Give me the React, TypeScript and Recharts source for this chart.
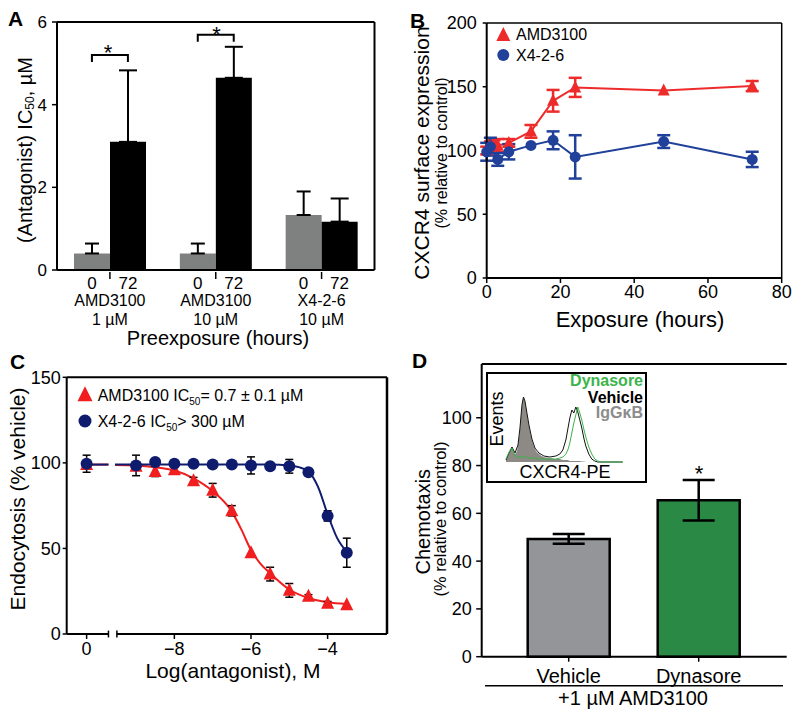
import React from 'react';
import {
  ComposedChart, Bar, Line, Scatter, Area, XAxis, YAxis, ErrorBar, ReferenceLine, Cell,
} from 'recharts';

const FONT = '"Liberation Sans", Arial, Helvetica, sans-serif';

// ---- Panel A: IC50 after preexposure ----
const aPos = [1, 2, 3];
const aGroups = [['AMD3100', '1 µM'], ['AMD3100', '10 µM'], ['X4-2-6', '10 µM']];
const aTimes = ['0', '72'];
const aPre = [0.4, 0.4, 1.33];
const aPreErr = [0.24, 0.24, 0.57];
const aPost = [3.1, 4.65, 1.17];
const aPostErr = [1.73, 0.75, 0.56];
// significance brackets: from, to, level
const aSigFrom = [0.83, 1.83];
const aSigTo = [1.17, 2.17];
const aSigLevel = [5.2, 5.69];

// ---- Panel B: surface expression over time ----
const bTimesAmd = [0, 1, 2, 3, 6, 12, 18, 24, 48, 72];
const bAmd = [100, 103, 104, 104, 106, 115, 139, 149.5, 147, 150.5];
const bAmdErr = [3, 4, 4, 5, 3, 5, 8.5, 7.5, 0, 4];
const bTimesX4 = [0, 1, 3, 6, 12, 18, 24, 48, 72];
const bX4 = [99, 103, 93, 99, 104, 108, 95, 107, 93];
const bX4Err = [7, 7, 5, 6, 0, 7, 17, 5, 6];

// ---- Panel C: endocytosis dose response ----
const cCtrlPos = -10.29; // where the "0" (no antagonist) point sits on the broken axis
const cDose = [cCtrlPos, -9, -8.5, -8, -7.5, -7, -6.5, -6, -5.5, -5, -4.5, -4, -3.5];
const cAmd = [99, 98, 95, 96, 89.5, 84, 72, 47.5, 35, 25.5, 22, 18, 17];
const cAmdErr = [0, 1, 3, 2, 2, 4, 3, 0, 4, 4, 1, 1, 0];
const cX4 = [99.5, 98.5, 100.5, 99.5, 99.5, 99, 99, 98.5, 98, 98, 94.5, 69, 47.5];
const cX4Err = [5, 6, 0, 0, 0, 0, 0, 5, 0, 4, 0, 3, 8.5];
const cAmdFitX = [-9.55, -9, -8.5, -8, -7.5, -7, -6.5, -6.25, -6, -5.75, -5.5, -5, -4.5, -4, -3.5];
const cAmdFit = [98.8, 98.5, 97.5, 95.5, 91, 83.5, 71.5, 61, 49, 41, 35.5, 26, 21, 18.5, 17.5];
const cX4FitX = [-9.55, -9, -8, -7, -6, -5.5, -5, -4.75, -4.5, -4.25, -4, -3.75, -3.5];
const cX4Fit = [99, 99, 99, 99, 99, 99, 98.5, 97.5, 95, 86, 70, 56, 48];
const cCtrlFitX = [-10.4, -9.72];
const cCtrlFit = [99, 99];

// ---- Panel D: chemotaxis ----
const dGroups = ['Vehicle', 'Dynasore'];
const dChemo = [49.3, 65.5];
const dChemoErr = [2, 8.5];
const dColors = ['#939598', '#2a8a45'];

// inset histogram (CXCR4-PE)
const hX = [0, 3, 6, 9, 12, 14, 16, 17.5, 19, 21, 23, 26, 29, 33, 38, 44, 50, 54, 57, 60, 62, 64, 66, 68, 70, 72, 74, 76, 78, 80, 83, 86, 89, 92, 96, 117];
const hIso = [2, 8, 15, 8, 16, 32, 55, 64, 60, 48, 36, 22, 13, 8, 5, 4, 3, 3, 2, 2, 2, 1, 1, 1, 1, 1, 1, 0.5, 0.5, 0, 0, 0, 0, 0, 0, 0];
const hVeh = [2, 9, 15, 9, 17, 34, 57, 65, 61, 49, 37, 23, 14, 9, 6, 5, 6, 8, 12, 22, 33, 44, 52, 49, 55, 50, 42, 34, 24, 16, 8, 3, 1, 0, 0, 0];
const hDyn = [3, 10, 14, 6, 5, 5, 5, 5, 5, 5, 4, 4, 4, 3, 3, 3, 3, 4, 5, 8, 12, 19, 29, 39, 47, 55, 49, 42, 33, 25, 15, 8, 3, 1, 0, 0];

const RED_B = '#ee2b2b';
const BLUE_B = '#21409a';
const RED_C = '#f01e1e';
const NAVY_C = '#0f1c6e';

const axisLine = { stroke: '#000', strokeWidth: 2 };
const tickLine = { stroke: '#000', strokeWidth: 1.5 };
const tickStyle = (size: number) => ({ fill: '#000', fontSize: size, fontFamily: FONT });

const Tri = ({ cx, cy, size, fill }: any) => (
  <polygon
    points={`${cx},${cy - size * 0.58} ${cx - size / 2},${cy + size * 0.42} ${cx + size / 2},${cy + size * 0.42}`}
    fill={fill}
  />
);

const AGroupTick = (props: any) => {
  const { x, y, payload } = props;
  const i = aPos.indexOf(Number(payload.value));
  if (i < 0) return null;
  return (
    <g fontFamily={FONT} fill="#000" textAnchor="middle">
      <line x1={x} y1={y} x2={x} y2={y + 7} stroke="#000" strokeWidth={1.5} />
      <text x={x - 18} y={y + 11} dominantBaseline="central" fontSize={17}>{aTimes[0]}</text>
      <text x={x + 18} y={y + 11} dominantBaseline="central" fontSize={17}>{aTimes[1]}</text>
      <text x={x} y={y + 28.5} dominantBaseline="central" fontSize={16}>{aGroups[i][0]}</text>
      <text x={x} y={y + 47} dominantBaseline="central" fontSize={16}>{aGroups[i][1]}</text>
    </g>
  );
};

function PanelA() {
  const data = aPos.map((pos, i) => ({
    pos, pre: aPre[i], preErr: [0, aPreErr[i]], post: aPost[i], postErr: [0, aPostErr[i]],
  }));
  const brackets = aSigFrom.map((f, i) => [
    { pos: f, y: aSigLevel[i] - 0.17 },
    { pos: f, y: aSigLevel[i] },
    { pos: aSigTo[i], y: aSigLevel[i] },
    { pos: aSigTo[i], y: aSigLevel[i] - 0.17 },
  ]);
  return (
    <div style={{ position: 'absolute', left: 0, top: 0 }}>
      <ComposedChart width={400} height={340} data={data} barGap={0} margin={{ top: 22, right: 25.5, bottom: 0, left: 0 }}>
        <XAxis type="category" dataKey="pos" interval={0} height={70}
          tickSize={0} tickLine={false} axisLine={axisLine} tick={<AGroupTick />} />
        <XAxis xAxisId="num" type="number" dataKey="pos" domain={[0.5, 3.5]} hide />
        <YAxis type="number" domain={[0, 6]} ticks={[0, 2, 4, 6]} width={57} tickSize={5} tickMargin={5}
          axisLine={axisLine} tickLine={tickLine} tick={tickStyle(17)} />
        <ReferenceLine y={6} stroke="#000" strokeWidth={2} ifOverflow="visible" />
        <ReferenceLine xAxisId="num" x={3.5} stroke="#000" strokeWidth={2} ifOverflow="visible" />
        <Bar dataKey="pre" fill="#7f8181" barSize={36} isAnimationActive={false}>
          <ErrorBar dataKey="preErr" direction="y" width={7} stroke="#000" strokeWidth={2} />
        </Bar>
        <Bar dataKey="post" fill="#000" barSize={36} isAnimationActive={false}>
          <ErrorBar dataKey="postErr" direction="y" width={9} stroke="#000" strokeWidth={2} />
        </Bar>
        {brackets.map((b, i) => (
          <Line key={i} xAxisId="num" data={b} dataKey="y" type="linear" stroke="#000" strokeWidth={2} dot={false}
            isAnimationActive={false} />
        ))}
      </ComposedChart>
    </div>
  );
}

function PanelB() {
  const amd = bTimesAmd.map((t, i) => ({ t, v: bAmd[i], e: bAmdErr[i] }));
  const x4 = bTimesX4.map((t, i) => ({ t, v: bX4[i], e: bX4Err[i] }));
  return (
    <div style={{ position: 'absolute', left: 400, top: 0 }}>
      <ComposedChart width={400} height={340} margin={{ top: 23, right: 18.3, bottom: 0, left: 0 }}>
        <XAxis type="number" dataKey="t" domain={[0, 80]} ticks={[0, 20, 40, 60, 80]} height={62}
          tickSize={5} tickMargin={2} axisLine={axisLine} tickLine={tickLine} tick={tickStyle(18)} />
        <YAxis type="number" domain={[0, 200]} ticks={[0, 50, 100, 150, 200]} width={86.7} tickSize={4}
          tickMargin={6} axisLine={axisLine} tickLine={tickLine} tick={tickStyle(18)} />
        <ReferenceLine y={200} stroke="#000" strokeWidth={1.5} ifOverflow="visible" />
        <ReferenceLine x={80} stroke="#000" strokeWidth={1.5} ifOverflow="visible" />
        <Line data={amd} dataKey="v" type="linear" stroke={RED_B} strokeWidth={2} isAnimationActive={false}
          dot={(p: any) => <Tri key={p.index} cx={p.cx} cy={p.cy} size={12} fill={RED_B} />}>
          <ErrorBar dataKey="e" direction="y" width={6.5} stroke={RED_B} strokeWidth={2.5} />
        </Line>
        <Line data={x4} dataKey="v" type="linear" stroke={BLUE_B} strokeWidth={2} isAnimationActive={false}
          dot={(p: any) => <circle key={p.index} cx={p.cx} cy={p.cy} r={5.5} fill={BLUE_B} />}>
          <ErrorBar dataKey="e" direction="y" width={6.5} stroke={BLUE_B} strokeWidth={2.5} />
        </Line>
      </ComposedChart>
    </div>
  );
}

function PanelC() {
  const amd = cDose.map((x, i) => ({ x, y: cAmd[i], e: cAmdErr[i] }));
  const x4 = cDose.map((x, i) => ({ x, y: cX4[i], e: cX4Err[i] }));
  const amdFit = cAmdFitX.map((x, i) => ({ x, y: cAmdFit[i] }));
  const x4Fit = cX4FitX.map((x, i) => ({ x, y: cX4Fit[i] }));
  const ctrlFit = cCtrlFitX.map((x, i) => ({ x, y: cCtrlFit[i] }));
  const xMin = -10.81;
  const xMax = -2.45;
  return (
    <div style={{ position: 'absolute', left: 0, top: 340 }}>
      <ComposedChart width={400} height={377} margin={{ top: 37.3, right: 13, bottom: 0, left: 0 }}>
        <XAxis type="number" dataKey="x" domain={[xMin, xMax]} ticks={[cCtrlPos, -8, -6, -4]} height={83}
          tickSize={5} tickMargin={3} axisLine={false} tickLine={tickLine} tick={tickStyle(18)}
          tickFormatter={(v: number) => (v === cCtrlPos ? '0' : `\u2212${Math.abs(v)}`)} />
        <YAxis type="number" domain={[0, 150]} ticks={[0, 50, 100, 150]} width={66.7} tickSize={4}
          tickMargin={2} axisLine={axisLine} tickLine={tickLine} tick={tickStyle(18)} />
        <ReferenceLine y={150} stroke="#000" strokeWidth={2} ifOverflow="visible" />
        <ReferenceLine x={xMax} stroke="#000" strokeWidth={2.5} ifOverflow="visible" />
        {/* broken x axis */}
        <ReferenceLine segment={[{ x: xMin, y: 0 }, { x: -9.72, y: 0 }]} stroke="#000" strokeWidth={2} ifOverflow="visible" />
        <ReferenceLine segment={[{ x: -9.5, y: 0 }, { x: xMax, y: 0 }]} stroke="#000" strokeWidth={2} ifOverflow="visible" />
        <ReferenceLine segment={[{ x: -9.72, y: -2 }, { x: -9.72, y: 2 }]} stroke="#000" strokeWidth={1.5} ifOverflow="visible" />
        <ReferenceLine segment={[{ x: -9.5, y: -2 }, { x: -9.5, y: 2 }]} stroke="#000" strokeWidth={1.5} ifOverflow="visible" />
        <Line data={ctrlFit} dataKey="y" type="linear" stroke={RED_C} strokeWidth={2} dot={false} isAnimationActive={false} />
        <Line data={amdFit} dataKey="y" type="monotone" stroke={RED_C} strokeWidth={2} dot={false} isAnimationActive={false} />
        <Line data={ctrlFit} dataKey="y" type="linear" stroke={NAVY_C} strokeWidth={2} dot={false} isAnimationActive={false} />
        <Line data={x4Fit} dataKey="y" type="monotone" stroke={NAVY_C} strokeWidth={2} dot={false} isAnimationActive={false} />
        <Scatter data={amd} dataKey="y" isAnimationActive={false}
          shape={(p: any) => <Tri cx={p.cx} cy={p.cy} size={13} fill={RED_C} />}>
          <ErrorBar dataKey="e" direction="y" width={4} stroke="#000" strokeWidth={1.5} />
        </Scatter>
        <Scatter data={x4} dataKey="y" isAnimationActive={false}
          shape={(p: any) => <circle cx={p.cx} cy={p.cy} r={6} fill={NAVY_C} />}>
          <ErrorBar dataKey="e" direction="y" width={4} stroke="#000" strokeWidth={1.5} />
        </Scatter>
      </ComposedChart>
    </div>
  );
}

function PanelD() {
  const data = dGroups.map((g, i) => ({ g, v: dChemo[i], e: dChemoErr[i] }));
  const yMax = 122.5;
  return (
    <div style={{ position: 'absolute', left: 400, top: 340 }}>
      <ComposedChart width={400} height={377} data={data} margin={{ top: 24, right: 13.3, bottom: 0, left: 0 }}>
        <XAxis dataKey="g" padding={{ left: 22, right: 23 }} height={60.3} tickSize={5} tickMargin={7}
          axisLine={axisLine} tickLine={tickLine} tick={tickStyle(20)} />
        <YAxis type="number" domain={[0, yMax]} ticks={[0, 20, 40, 60, 80, 100]} width={81.7} tickSize={5.5}
          tickMargin={4.5} axisLine={axisLine} tickLine={tickLine} tick={tickStyle(18)} />
        <YAxis yAxisId="frame" orientation="right" width={0} domain={[0, 1]} tick={false} tickLine={false}
          axisLine={axisLine} />
        <ReferenceLine y={yMax} stroke="#000" strokeWidth={2} ifOverflow="visible" />
        <Bar dataKey="v" barSize={82} stroke="#000" strokeWidth={2.5} isAnimationActive={false}>
          {data.map((d, i) => <Cell key={d.g} fill={dColors[i]} />)}
          <ErrorBar dataKey="e" direction="y" width={16} stroke="#000" strokeWidth={2.5} />
        </Bar>
      </ComposedChart>
    </div>
  );
}

function Inset() {
  const data = hX.map((x, i) => ({ x, iso: hIso[i], veh: hVeh[i], dyn: hDyn[i] }));
  return (
    <>
      <div style={{
        position: 'absolute', left: 486, top: 372, width: 161, height: 111, boxSizing: 'border-box',
        border: '2px solid #000', background: '#fff',
      }} />
      <div style={{ position: 'absolute', left: 486, top: 372 }}>
        <ComposedChart width={161} height={111} data={data} margin={{ top: 3, right: 24.3, bottom: 21, left: 20 }}>
          <XAxis type="number" dataKey="x" domain={[0, 117]} height={0} tick={false} tickLine={false}
            axisLine={{ stroke: '#000', strokeWidth: 1.2 }} />
          <YAxis type="number" domain={[0, 87]} width={0} tick={false} tickLine={false}
            axisLine={{ stroke: '#000', strokeWidth: 1.2 }} />
          <Area dataKey="iso" type="monotone" fill="#8d8985" fillOpacity={1} stroke="none" isAnimationActive={false} />
          <Line dataKey="veh" type="linear" stroke="#111" strokeWidth={1} dot={false} isAnimationActive={false} />
          <Line dataKey="dyn" type="linear" stroke="#3cb44b" strokeWidth={1} dot={false} isAnimationActive={false} />
        </ComposedChart>
      </div>
    </>
  );
}

function Overlay() {
  const t = { fontFamily: FONT, fill: '#000' } as const;
  return (
    <svg width={800} height={717} style={{ position: 'absolute', left: 0, top: 0, pointerEvents: 'none' }}>
      <g {...t} fontWeight="bold" fontSize={21} dominantBaseline="central">
        <text x={8} y={18}>A</text>
        <text x={410} y={20}>B</text>
        <text x={10} y={361}>C</text>
        <text x={412} y={360.5}>D</text>
      </g>
      {/* significance stars */}
      <g {...t} fontSize={22} textAnchor="middle">
        <text x={108} y={60}>*</text>
        <text x={216.5} y={41.7}>*</text>
        <text x={699} y={480.6}>*</text>
      </g>
      {/* axis titles */}
      <g {...t} textAnchor="middle" dominantBaseline="central">
        <text transform="translate(24.5,150) rotate(-90)" fontSize={20}>
          (Antagonist) IC<tspan fontSize={12} dy={5}>50</tspan><tspan dy={-5}>, µM</tspan>
        </text>
        <text x={218} y={338} fontSize={20}>Preexposure (hours)</text>
        <text transform="translate(421.5,153) rotate(-90)" fontSize={21}>CXCR4 surface expression</text>
        <text transform="translate(441,153) rotate(-90)" fontSize={16}>(% relative to control)</text>
        <text x={640} y={319} fontSize={22}>Exposure (hours)</text>
        <text transform="translate(17,499) rotate(-90)" fontSize={21}>Endocytosis (% vehicle)</text>
        <text x={233} y={670} fontSize={21}>Log(antagonist), M</text>
        <text transform="translate(423.3,521.7) rotate(-90)" fontSize={20}>Chemotaxis</text>
        <text transform="translate(439.5,519) rotate(-90)" fontSize={16.4}>(% relative to control)</text>
        <text x={633} y={698} fontSize={20}>+1 µM AMD3100</text>
        <text transform="translate(496.7,419) rotate(-90)" fontSize={18}>Events</text>
        <text x={565} y={471.7} fontSize={18}>CXCR4-PE</text>
      </g>
      <line x1={485} y1={685.7} x2={783} y2={685.7} stroke="#000" strokeWidth={1.5} />
      {/* inset legend */}
      <g fontFamily={FONT} fontWeight="bold" fontSize={16} textAnchor="end" dominantBaseline="central">
        <text x={643} y={380.7} fill="#3cb44b">Dynasore</text>
        <text x={643} y={397} fill="#000">Vehicle</text>
        <text x={643} y={412.7} fill="#8c8c8c">IgGκB</text>
      </g>
      {/* panel B legend */}
      <Tri cx={503.3} cy={35} size={14} fill={RED_B} />
      <circle cx={503.3} cy={55} r={6} fill={BLUE_B} />
      <g {...t} fontSize={16} dominantBaseline="central">
        <text x={516} y={34.5}>AMD3100</text>
        <text x={516} y={55}>X4-2-6</text>
      </g>
      {/* panel C legend */}
      <Tri cx={85} cy={395} size={15} fill={RED_C} />
      <circle cx={85} cy={421} r={6.5} fill={NAVY_C} />
      <g {...t} fontSize={16}>
        <text x={97.7} y={400.5}>AMD3100 IC<tspan fontSize={10} dy={4}>50</tspan><tspan dy={-4}>= 0.7 ± 0.1 µM</tspan></text>
        <text x={97.7} y={426.5}>X4-2-6 IC<tspan fontSize={10} dy={4}>50</tspan><tspan dy={-4}>&gt; 300 µM</tspan></text>
      </g>
    </svg>
  );
}

export default function App() {
  return (
    <div style={{ position: 'absolute', left: 0, top: 0, width: 800, height: 717, background: '#fff', fontFamily: FONT }}>
      <PanelA />
      <PanelB />
      <PanelC />
      <PanelD />
      <Inset />
      <Overlay />
    </div>
  );
}
